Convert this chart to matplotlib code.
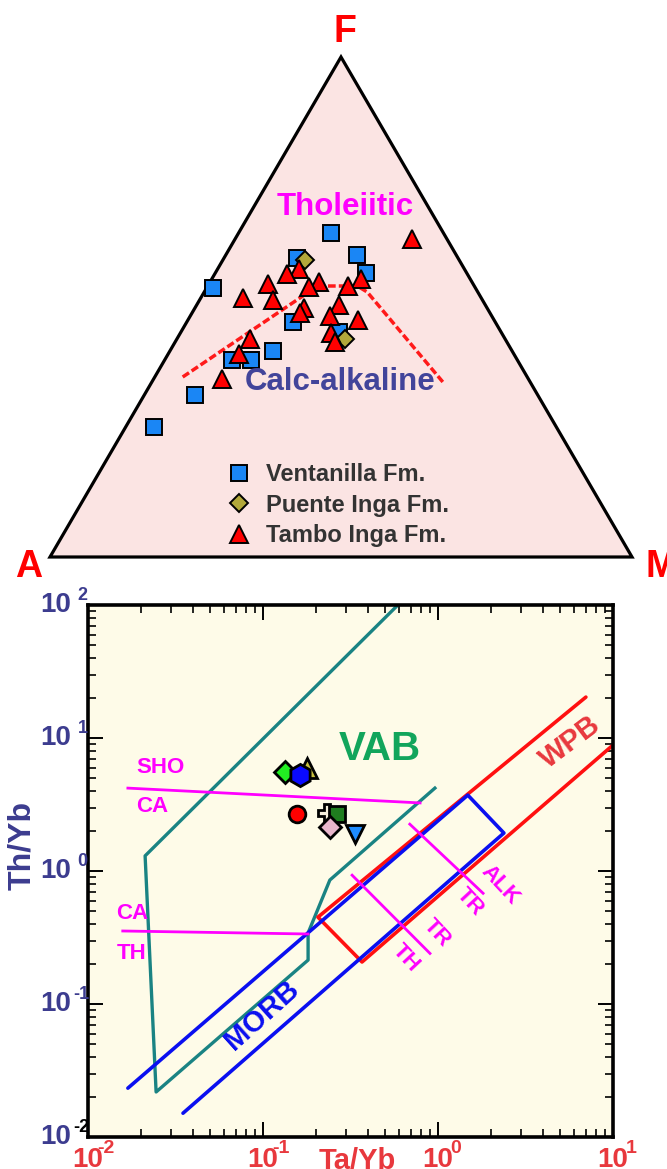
import numpy as np
import matplotlib
matplotlib.use("Agg")
import matplotlib.pyplot as plt
from matplotlib.lines import Line2D
from matplotlib.patches import Polygon

plt.rcParams['font.family'] = ['Liberation Sans', 'DejaVu Sans']
plt.rcParams['font.weight'] = 'bold'

# ---- AFM data (A, F, M in %) ----
vent_a = [19.3, 27.7, 17.1, 17.3, 45.1, 34.8, 27.9, 41.1, 49.0, 45.8, 58.9, 69.1]
vent_f = [64.8, 59.8, 60.4, 56.8, 53.8, 47.0, 45.0, 41.2, 39.4, 39.4, 32.4, 26.0]
vent_m = [15.9, 12.5, 22.5, 25.9, 1.1, 18.2, 27.1, 17.7, 11.6, 14.8, 8.7, 4.9]

puente_a = [26.5, 27.5]
puente_f = [59.4, 43.6]
puente_m = [14.1, 28.9]

tambo_a = [6.0, 28.4, 31.0, 35.2, 18.8, 26.3, 28.5, 21.7, 40.9, 36.0,
           25.1, 31.5, 32.6, 27.8, 23.4, 29.3, 29.5, 43.8, 47.2, 52.6]
tambo_f = [63.6, 57.6, 56.6, 54.6, 55.6, 55.0, 54.0, 54.2, 51.8, 51.4,
           50.4, 49.8, 48.8, 48.2, 47.4, 44.8, 43.0, 43.6, 40.6, 35.6]
tambo_m = [30.4, 14.0, 12.4, 10.2, 25.6, 18.7, 17.5, 24.1, 7.3, 12.6,
           24.5, 18.7, 18.6, 24.0, 29.2, 25.9, 27.5, 12.6, 12.2, 11.8]

# tholeiitic / calc-alkaline divide
div_a = [59.2, 29.4, 25.3, 20.1, 19.0, 15.0]
div_f = [36.0, 52.8, 54.2, 54.2, 53.0, 35.0]
div_m = [4.8, 17.8, 20.5, 25.7, 28.0, 50.0]

# ---- Th/Yb vs Ta/Yb data ----
sample_ta = [0.134, 0.178, 0.163, 0.156, 0.232, 0.265, 0.242, 0.336]
sample_th = [5.55, 5.95, 5.27, 2.68, 2.73, 2.68, 2.14, 1.90]

vab_ta = [0.59, 0.0212, 0.0245, 0.181, 0.181, 0.241, 0.96]
vab_th = [100, 1.30, 0.0218, 0.214, 0.342, 0.855, 4.2]

morb_ta = [0.0169, 1.48, 2.38, 0.0349]
morb_th = [0.0233, 3.72, 1.93, 0.0151]

wpb_ta = [7.0, 0.206, 0.368, 10.0]
wpb_th = [20.3, 0.45, 0.207, 8.85]

sho_ca_ta = [0.0169, 0.79]
sho_ca_th = [4.2, 3.25]
ca_th_ta = [0.0158, 0.181]
ca_th_th = [0.354, 0.336]
th_tr_ta = [0.323, 0.90]
th_tr_th = [0.93, 0.24]
tr_alk_ta = [0.69, 1.81]
tr_alk_th = [2.25, 0.68]

exps = [-2, -1, 0, 1, 2]
xexps = [-2, -1, 0, 1]


def tern(a, f, m):
    a, f, m = np.asarray(a, float), np.asarray(f, float), np.asarray(m, float)
    s = a + f + m
    return m / s + 0.5 * f / s, np.sqrt(3) / 2 * f / s


W, H = 667, 1169
fig = plt.figure(figsize=(W / 100, H / 100), dpi=100)

# ---------------- ternary ----------------
ax1 = fig.add_axes([50 / W, (H - 557) / H, 582 / W, 500 / H])
ax1.set_xlim(0, 1)
ax1.set_ylim(0, np.sqrt(3) / 2)
ax1.axis('off')

tri = Polygon([[0, 0], [1, 0], [0.5, np.sqrt(3) / 2]], closed=True,
              facecolor='#fbe4e3', edgecolor='black', lw=2.3,
              joinstyle='miter', clip_on=False, zorder=1)
ax1.add_patch(tri)

x, y = tern(div_a, div_f, div_m)
ax1.plot(x, y, color='#ff1a1a', lw=2.5, dashes=(2.2, 0.9), zorder=2, clip_on=False)

x, y = tern(vent_a, vent_f, vent_m)
ax1.plot(x, y, 's', ms=11, mfc='#1a86f5', mec='black', mew=1.4, zorder=4, clip_on=False)
x, y = tern(puente_a, puente_f, puente_m)
ax1.plot(x, y, 'D', ms=9, mfc='#b2a83a', mec='black', mew=1.4, zorder=4, clip_on=False)
x, y = tern(tambo_a, tambo_f, tambo_m)
ax1.plot(x, y, '^', ms=13.5, mfc='#ff0000', mec='black', mew=1.4, zorder=5, clip_on=False)

fig.text(345 / W, 1 - 207 / H, 'Tholeiitic', color='#ff00ff', fontsize=22.5,
         fontweight='bold', ha='center', va='center')
fig.text(340 / W, 1 - 382 / H, 'Calc-alkaline', color='#42449a', fontsize=22.5,
         fontweight='bold', ha='center', va='center')
fig.text(345 / W, 1 - 32 / H, 'F', color='#ff0000', fontsize=27,
         fontweight='bold', ha='center', va='center')
fig.text(29 / W, 1 - 567 / H, 'A', color='#ff0000', fontsize=27,
         fontweight='bold', ha='center', va='center')
fig.text(645 / W, 1 - 567 / H, 'M', color='#ff0000', fontsize=27,
         fontweight='bold', ha='left', va='center')

handles = [
    Line2D([], [], ls='none', marker='s', ms=11, mfc='#1a86f5', mec='black', mew=1.4),
    Line2D([], [], ls='none', marker='D', ms=9, mfc='#b2a83a', mec='black', mew=1.4),
    Line2D([], [], ls='none', marker='^', ms=13.5, mfc='#ff0000', mec='black', mew=1.4),
]
leg = fig.legend(handles, ['Ventanilla Fm.', 'Puente Inga Fm.', 'Tambo Inga Fm.'],
                 loc='upper left', bbox_to_anchor=(213 / W, 1 - 451 / H),
                 frameon=False, fontsize=17, handlelength=1.2, handletextpad=0.55,
                 labelspacing=0.33, borderpad=0)
for t in leg.get_texts():
    t.set_color('#333333')
    t.set_fontweight('bold')

# ---------------- Th/Yb vs Ta/Yb ----------------
ax2 = fig.add_axes([88 / W, (H - 1137) / H, 525 / W, 532 / H])
ax2.set_facecolor('#fefbe8')
ax2.set_xscale('log')
ax2.set_yscale('log')
ax2.set_xlim(0.01, 10)
ax2.set_ylim(0.01, 100)
for s in ax2.spines.values():
    s.set_linewidth(2.6)
ax2.tick_params(which='both', direction='in', top=True, right=True,
                labelleft=False, labelbottom=False, color='black')
ax2.tick_params(which='major', length=11, width=1.4)
ax2.tick_params(which='minor', length=6, width=1.2)

ax2.plot(vab_ta, vab_th, color='#1a8383', lw=2.4, zorder=2)
ax2.plot(morb_ta, morb_th, color='#0a0ff0', lw=2.6, zorder=3, solid_capstyle='round')
ax2.plot(wpb_ta, wpb_th, color='#ff1010', lw=2.6, zorder=2, solid_capstyle='round')
for xs, ys in [(sho_ca_ta, sho_ca_th), (ca_th_ta, ca_th_th),
               (th_tr_ta, th_tr_th), (tr_alk_ta, tr_alk_th)]:
    ax2.plot(xs, ys, color='#ff00ff', lw=2.0, zorder=4)

styles = [
    dict(marker='D', ms=11, mfc='#22ee22'),
    dict(marker='^', ms=14, mfc='#c8c040'),
    dict(marker='h', ms=16, mfc='#0a0aff'),
    dict(marker='o', ms=12, mfc='#ff0000'),
    dict(marker='P', ms=13, mfc='#f4eedc'),
    dict(marker='s', ms=11, mfc='#1f7d1f'),
    dict(marker='D', ms=11, mfc='#e8b6cc'),
    dict(marker='v', ms=13, mfc='#1e8cff'),
]
for i, (xv, yv) in enumerate(zip(sample_ta, sample_th)):
    ax2.plot([xv], [yv], ls='none', mec='black', mew=2.0, zorder=6 + i, **styles[i])

ax2.text(0.467, 8.26, 'VAB', color='#12a55c', fontsize=29, fontweight='bold',
         ha='center', va='center')
ax2.text(5.68, 9.33, 'WPB', color='#e8383d', fontsize=21, fontweight='bold',
         ha='center', va='center', rotation=37)
ax2.text(0.0987, 0.0826, 'MORB', color='#0a0ff0', fontsize=21, fontweight='bold',
         ha='center', va='center', rotation=42)
for txt, xv, yv, rot in [('SHO', 0.0261, 6.05, 0), ('CA', 0.0232, 3.08, 0),
                         ('CA', 0.0178, 0.475, 0), ('TH', 0.0178, 0.241, 0),
                         ('ALK', 2.26, 0.785, -47), ('TR', 1.52, 0.585, -47),
                         ('TR', 0.986, 0.342, -47), ('TH', 0.656, 0.222, -47)]:
    ax2.text(xv, yv, txt, color='#ff00ff', fontsize=16, fontweight='bold',
             ha='center', va='center', rotation=rot)

ylab_col = '#3c3c8f'
ytr = ax2.get_yaxis_transform()
for e in exps:
    ax2.text(-0.033, 10.0 ** e, '10', transform=ytr, color=ylab_col, fontsize=20,
             fontweight='bold', ha='right', va='center')
    ax2.annotate(str(e), xy=(-0.033, 10.0 ** e), xycoords=ytr,
                 xytext=(5 if e >= 0 else 2, 7), textcoords='offset points',
                 color='black' if e == -2 else ylab_col, fontsize=13,
                 fontweight='bold', ha='left', va='center')

xlab_col = '#e8383d'
xtr = ax2.get_xaxis_transform()
for e in xexps:
    ax2.text(10.0 ** e, -0.018, '10', transform=xtr, color=xlab_col, fontsize=20,
             fontweight='bold', ha='center', va='top')
    ax2.annotate(str(e), xy=(10.0 ** e, -0.018), xycoords=xtr,
                 xytext=(7 if e < 0 else 9, 5), textcoords='offset points',
                 color=xlab_col, fontsize=14, fontweight='bold', ha='left', va='top')

fig.text(357 / W, 1 - 1147 / H, 'Ta/Yb', color=xlab_col, fontsize=21,
         fontweight='bold', ha='center', va='top')
fig.text(22 / W, 1 - 845 / H, 'Th/Yb', color=ylab_col, fontsize=23,
         fontweight='bold', ha='center', va='center', rotation=90)

fig.savefig('out.png', dpi=100)
